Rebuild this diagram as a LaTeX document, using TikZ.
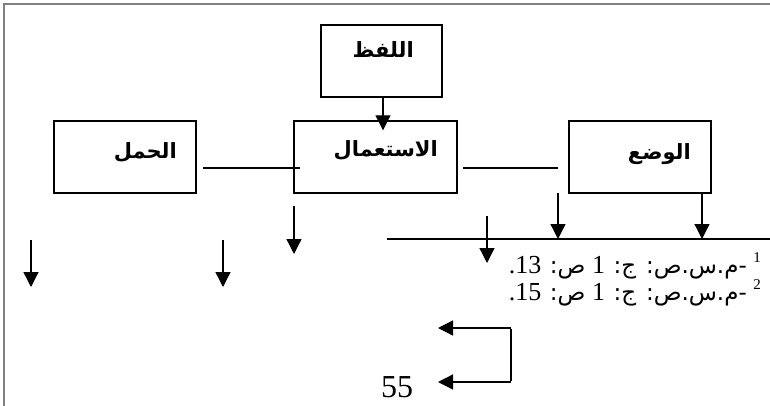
\documentclass[tikz,border=0pt]{standalone}
\usepackage{fontspec}
\setmainfont{Liberation Serif}
\newfontfamily\arabicfont[Script=Arabic]{DejaVu Sans}
\TeXXeTstate=1
\usetikzlibrary{arrows.meta}
\tikzset{
  box/.style={draw, line width=1.4pt, inner sep=0pt, minimum height=72pt},
  lbl/.style={anchor=east, inner sep=0pt, font=\arabicfont\bfseries\fontsize{21}{21}\selectfont},
  conn/.style={line width=1.3pt},
  arr/.style={line width=1.3pt, -{Triangle[width=15pt,length=15pt]}},
  fn/.style={anchor=east, inner sep=0pt, font=\fontsize{26}{26}\selectfont},
  frame/.style={draw=gray, line width=1.2pt}
}
\newcommand{\ar}[1]{{\arabicfont\fontsize{23}{23}\selectfont #1}}
\newcommand{\sups}[1]{\raisebox{11pt}{\fontsize{15}{15}\selectfont #1}}
\begin{document}
\begin{tikzpicture}[x=1pt,y=-1pt]
\useasboundingbox (0,0) rectangle (770,406);
% page frame
\draw[frame] (4,406) -- (4,4) -- (770,4);
% boxes
\node[box, minimum width=121pt] (lafz) at (381.5,61) {};
\node[box, minimum width=142pt] (haml) at (125,157) {};
\node[box, minimum width=163pt] (istimal) at (375.5,157) {};
\node[box, minimum width=142pt] (wadh) at (640,157) {};
% labels
\node[lbl] (tlafz) at (414,50) {\beginR اللفظ\endR};
\node[lbl] (thaml) at (177,152) {\beginR الحمل\endR};
\node[lbl] (tistimal) at (438,150) {\beginR الاستعمال\endR};
\node[lbl] (twadh) at (691,154) {\beginR الوضع\endR};
% connectors
\draw[arr, shorten >=-10pt] ([xshift=1.5pt]lafz.south) -- ([xshift=1.5pt]lafz.south |- istimal.north);
\coordinate (h1) at (203,168);
\coordinate (h2) at (300,168);
\coordinate (h3) at (463,168);
\coordinate (h4) at (558,168);
\draw[conn] (h1) -- (h2);
\draw[conn] (h3) -- (h4);
\coordinate (bl) at (387,239);
\coordinate (br) at (770,239);
\draw[conn] (bl) -- (br);
\coordinate (w1) at (558,193);
\coordinate (w1e) at (558,239);
\coordinate (w2) at (702,193);
\coordinate (w2e) at (702,239);
\draw[arr] (w1) -- (w1e);
\draw[arr] (w2) -- (w2e);
\coordinate (a1) at (487,216);
\coordinate (a1e) at (487,263);
\draw[arr] (a1) -- (a1e);
\coordinate (a2) at (294,206);
\coordinate (a2e) at (294,254);
\draw[arr] (a2) -- (a2e);
\coordinate (a3) at (31,240);
\coordinate (a3e) at (31,287);
\draw[arr] (a3) -- (a3e);
\coordinate (a4) at (223,240);
\coordinate (a4e) at (223,287);
\draw[arr] (a4) -- (a4e);
% bracket
\coordinate (b1) at (511,328);
\coordinate (b2) at (511,382);
\coordinate (b1e) at (438,328);
\coordinate (b2e) at (438,382);
\draw[conn] ([yshift=-0.65pt]b1) -- ([yshift=0.65pt]b2);
\draw[arr] (b1) -- (b1e);
\draw[arr] (b2) -- (b2e);
% footnotes
\node[fn] (fn1) at (761,266) {\beginR\sups{1} \ar{-م.س.ص: ج:} 1 \ar{ص:} \beginL 13\endL.\endR};
\node[fn] (fn2) at (761,293) {\beginR\sups{2} \ar{-م.س.ص: ج:} 1 \ar{ص:} \beginL 15\endL.\endR};
% page number
\node[anchor=base west, inner sep=0pt, font=\fontsize{32}{32}\selectfont] (page) at (381,397) {55};
\end{tikzpicture}
\end{document}
